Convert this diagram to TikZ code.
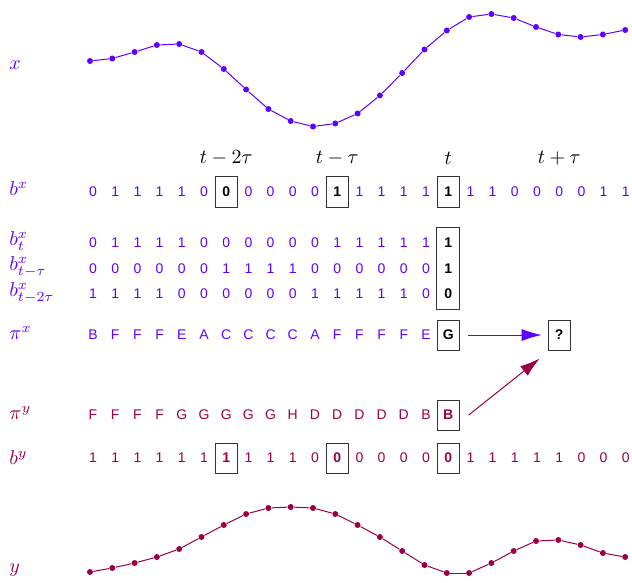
\documentclass[tikz,border=0pt]{standalone}
\usepackage{fontspec}
\setsansfont{Liberation Sans}
\usepackage{xcolor}
\usetikzlibrary{arrows.meta,positioning,fit}
\definecolor{xcol}{RGB}{96,0,255}
\definecolor{ycol}{RGB}{153,0,70}

\begin{document}
\begin{tikzpicture}[x=0.5pt,y=-0.5pt,
  bit/.style={font=\sffamily\fontsize{7}{8}\selectfont,inner sep=0pt},
  boldbit/.style={bit,font=\sffamily\bfseries\fontsize{7}{8}\selectfont,
                  minimum width=11pt,minimum height=15pt},
  sel/.style={boldbit,draw=black!80,line width=0.5pt},
  lab/.style={anchor=west,font=\fontsize{10}{12}\selectfont,inner sep=0pt},
  tlab/.style={font=\fontsize{10}{12}\selectfont,inner sep=0pt},
  dot/.style={circle,fill,inner sep=0pt,minimum size=3pt},
  curve/.style={line width=0.5pt},
  arr/.style={-{Latex[length=10pt,width=6pt]},line width=0.5pt}]
  \useasboundingbox (0,0) rectangle (632,583);

  % row labels
  \node[lab,xcol] (lx)   at (9,65)  {$x$};
  \node[lab,xcol] (lbx)  at (9,189) {$b^x$};
  \node[lab,xcol] (lbt)  at (9,241) {$b^x_t$};
  \node[lab,xcol] (lba)  at (9,267) {$b^x_{t-\tau}$};
  \node[lab,xcol] (lbb)  at (9,293) {$b^x_{t-2\tau}$};
  \node[lab,xcol] (lpx)  at (9,333) {$\pi^x$};
  \node[lab,ycol] (lpy)  at (9,413) {$\pi^y$};
  \node[lab,ycol] (lby)  at (9,458) {$b^y$};
  \node[lab,ycol] (ly)   at (9,570) {$y$};

  % signal x
  \foreach \h [count=\i from 0] in {61,58.5,52,45,44,52,69,89.5,109,121,126.5,123.5,
      113.5,95.5,73,49.5,30.5,17,14,18,27,34.5,37,34.5,30}
    \node[dot,xcol] (xp-\i) at ({90+22.3*\i},\h) {};
  \foreach \i [evaluate=\i as \j using int(\i+1)] in {0,...,23}
    \draw[curve,xcol] (xp-\i) -- (xp-\j);

  % time marks
  \node[tlab] (tl-6)  at ({93+22.2*6},158)  {$t-2\tau$};
  \node[tlab] (tl-11) at ({93+22.2*11},158) {$t-\tau$};
  \node[tlab] (tl-16) at ({93+22.2*16},158) {$t$};
  \node[tlab] (tl-21) at ({93+22.2*21},158) {$t+\tau$};

  % b^x
  \foreach \v [count=\i from 0] in {0,1,1,1,1,0,0,0,0,0,0,1,1,1,1,1,1,1,1,0,0,0,0,1,1}{
    \pgfmathtruncatemacro\hit{(\i==6)||(\i==11)||(\i==16)}
    \ifnum\hit=1
      \node[sel] (bx-\i) at ({93+22.2*\i},192) {\v};
    \else
      \node[bit,text=xcol] (bx-\i) at ({93+22.2*\i},192) {\v};
    \fi
  }

  % embedding of x
  \foreach \row/\yy/\vals in {bt/243/{0,1,1,1,1,0,0,0,0,0,0,1,1,1,1,1,1},
                             ba/269/{0,0,0,0,0,0,1,1,1,1,0,0,0,0,0,0,1},
                             bb/294/{1,1,1,1,0,0,0,0,0,0,1,1,1,1,1,0,0}}{
    \foreach \v [count=\i from 0] in \vals{
      \ifnum\i=16
        \node[boldbit] (\row-\i) at ({93+22.2*\i},\yy) {\v};
      \else
        \node[bit,text=xcol] (\row-\i) at ({93+22.2*\i},\yy) {\v};
      \fi
    }
  }
  \node[draw=black!80,line width=0.5pt,inner sep=0pt,fit=(bt-16)(bb-16)] (stack) {};

  % symbols
  \foreach \v [count=\i from 0] in {B,F,F,F,E,A,C,C,C,C,A,F,F,F,F,E,G}{
    \ifnum\i=16
      \node[sel] (pix-\i) at ({93+22.2*\i},335) {\v};
    \else
      \node[bit,text=xcol] (pix-\i) at ({93+22.2*\i},335) {\v};
    \fi
  }
  \foreach \v [count=\i from 0] in {F,F,F,F,G,G,G,G,G,H,D,D,D,D,D,B,B}{
    \ifnum\i=16
      \node[sel,text=ycol] (piy-\i) at ({93+22.2*\i},415) {\v};
    \else
      \node[bit,text=ycol] (piy-\i) at ({93+22.2*\i},415) {\v};
    \fi
  }
  \node[sel] (q) at ({93+22.2*21},335) {?};

  \draw[arr,xcol,shorten <=4pt,shorten >=3pt] (pix-16) -- (q);
  \draw[arr,ycol] ([xshift=4.5pt]piy-16.east) -- ([xshift=-4pt,yshift=-4pt]q.south west);

  % b^y
  \foreach \v [count=\i from 0] in {1,1,1,1,1,1,1,1,1,1,0,0,0,0,0,0,0,1,1,1,1,1,0,0,0}{
    \pgfmathtruncatemacro\hit{(\i==6)||(\i==11)||(\i==16)}
    \ifnum\hit=1
      \node[sel,text=ycol] (by-\i) at ({93+22.2*\i},458) {\v};
    \else
      \node[bit,text=ycol] (by-\i) at ({93+22.2*\i},458) {\v};
    \fi
  }

  % signal y
  \foreach \h [count=\i from 0] in {572,568,563,557,549,537,525,514,508,507,508,514,
      525,537,551,565,573,573,563,551,541,540,545,553,557}
    \node[dot,ycol] (yp-\i) at ({90+22.3*\i},\h) {};
  \foreach \i [evaluate=\i as \j using int(\i+1)] in {0,...,23}
    \draw[curve,ycol] (yp-\i) -- (yp-\j);
\end{tikzpicture}
\end{document}
